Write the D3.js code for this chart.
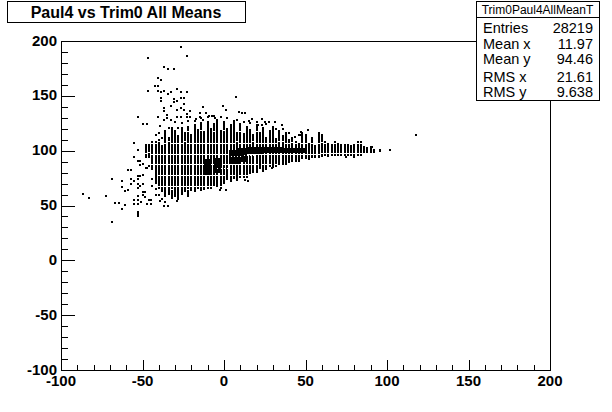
<!DOCTYPE html>
<html><head><meta charset="utf-8">
<script src="https://cdn.jsdelivr.net/npm/d3@7"></script>
<style>html,body{margin:0;padding:0;background:#fff}svg{display:block}text{font-family:"Liberation Sans",Arial,sans-serif;fill:#000}</style>
</head><body><svg id="c" width="612" height="412"></svg>
<script>
const titleText = "Paul4 vs Trim0 All Means";
const statName = "Trim0Paul4AllMeanT";
const statLabels = ["Entries","Mean x","Mean y","RMS x","RMS y"];
const statValues = ["28219","11.97","94.46","21.61","9.638"];
const xTicks = [-100,-50,0,50,100,150,200];
const yTicks = [-100,-50,0,50,100,150,200];

const colX = [-48,-46,-44,-42,-40,-38,-36,-34,-32,-30,-28,-26,-24,-22,-20,-18,-16,-14,-12,-10,-8,-6,-4,-2,0,2,4,6,8,10,12,14,16,18,20,22,24,26,28,30,32,34,36,38,40,42,44,46,48,50,52,54,56,58,60,62,64,66,68,70,72,74,76,78,80,82,84,86,88,90,92,96];
const colLow = [93,93,82,70,66,62,58,60,56,58,55,60,62,58,63,62,65,63,64,66,65,68,67,66,70,73,71,74,72,76,76,75,79,80,80,83,81,82,85,84,85,87,87,87,89,90,90,90,92,92,92,93,94,94,95,96,95,96,96,96,96,96,96,96,96,96,96,98,98,98,98,99];
const colHigh = [105,105,108,108,110,104,118,112,121,118,113,121,116,122,114,123,119,125,117,126,120,124,128,118,126,120,123,127,116,124,115,122,119,114,123,116,121,112,118,122,111,118,113,116,110,112,108,106,116,114,106,112,104,116,114,108,106,105,108,106,105,105,105,104,105,108,108,103,102,103,101,101];
const gapRows = [115,106,96,87,77,67];
const gapUpper = [101,100,103,102,108,99,111,108,112,110,109,111,108,117,110,112,113,118,111,119,109,117,120,112,118,113,110,119,108,117,110,113,109,108,117,111,112,106,113,110,104,108,108,104,102,107,99,102,111,103,100,104,99,110,107,103,100,100,102,100,100,99,100,99,99,100,102,100,100,100,100,100];
const gapLower = [97,98,90,78,74,81,70,74,64,72,63,71,70,64,74,72,70,73,71,75,72,74,72,70,74,78,76,80,78,82,80,84,83,86,84,88,86,85,90,88,90,91,92,91,93,94,92,93,94,94,93,95,95,95,97,97,97,97,97,97,97,97,97,97,97,97,97,99,99,99,99,100];

const bandX0 = [-12,-6,3,8,14,24,36];
const bandX1 = [-8,-1,9,14,24,36,51];
const bandY0 = [78,80,88,90,97,98,98];
const bandY1 = [92,93,101,102,103,103,102];
const dotX = [-4,-2,0,2,4,6,8,10,12,14,16,18,20,22,24,26,28,30,32,34,36];
const dotY = [84,84,84,84,95,95,95,95,96,96,96,96,97,97,97,97,97,97,97,97,97];

const ptX = [-26.6,-22.9,-46.8,-37,-34.5,-30.9,-40.7,-38.8,-42.5,-40.7,-46.8,-40.7,-38.8,-37,-34.5,-32.7,-29,-26.6,-22.9,-26.6,-24.7,-38.8,-38.8,-30.9,-30.9,-29,-24.7,-32.7,-37,-37,-29,-26.6,-24.7,-21,7.2,-13,-0.8,1,9,11,13,-53,-40.7,-37,-35,-35,-32.7,-29,-26.6,-22.9,-22.9,-21,-17.4,-15,-15,-13,-11,-9,-7.4,-5.5,-50,-47,-39,-55,-53,-55,-53,-51.5,-51.5,-47,-59,-57,-50,-53,-51.5,-68.7,-57,-55.5,-57,-62.6,-62.6,-59,-60.7,-53,-53,-53,-51.5,-50,-50,-50,-48.6,-48.6,-86.5,-82.8,-72.4,-53,-55,-55,-53,-53,-51,-46,-45,-39,-67,-64.7,-60.7,-62.6,-53,-53,-53,-68.7,-47,-45,-37,-34.5,-29,-0.6,15.3,17,23.3,21,23.3,25.3,27.6,31.3,35.4,51.3,43.5,47,47,117.6,101.6,75,79.6,91,87.5,29.3,14.9,13,1,-2.5,-42,-42,-40,-38,-36,-44,-44,-46,-48,-50,-42,-40,-38,-34,-30,-28,-26,-22,-18,-14,-10,-6,-2,2,8,12,16,20,26,32,36,40,46];
const ptY = [194.8,186.6,184.5,176.3,174.5,174.5,166.3,164.4,159,159,154.4,154.4,153.5,154.4,151.7,153.5,156.2,153.5,153.5,148,148,148,145.3,147,144.4,145.3,142.6,140.7,138.9,136,137,138.9,137,136,149,139.8,140.7,137,135,134,134,130.7,130.7,128,132.5,130,128,131,131,133,130.7,131,129,134,131,128,134,132,132,130,124,124,122.5,107,100.6,94.5,90.6,90.6,87,84,82,82,78,77,77,74,74,72.7,70,72.7,67,64.5,63,74,70,66,68,70,62,60,62,58,60.8,57,59,59,55,51.5,55,51.5,53,54.6,54.6,54,52.7,52.7,50.8,47,44,42,40,34.5,51,51,50,50,54,140.7,127,129,129,123.4,123.4,126,126,126,123.4,119,112.8,117,114,114.6,100.6,94.5,94.5,103,102,84.5,72.7,73,64,64,65,60,60,56,53,74,68,86,84,88,114,116,112,121,126,121,125,127,127,130,131,132,131,130,128,126,125,126,124,120,120,116,114];

const svg = d3.select("#c");
const pl = 61, pr = 550, pt = 41, pb = 370;
const x = d3.scaleLinear().domain([-100,200]).range([pl,pr]);
const y = d3.scaleLinear().domain([-100,200]).range([pb,pt]);
const sx = v => Math.round(x(v));
const sy = v => Math.round(y(v));

const marks = svg.append("g").attr("shape-rendering","crispEdges");
const segs = [];
colX.forEach((cx,i)=>{
  let hi = colHigh[i];
  const lo = colLow[i];
  const gaps = gapRows.concat([gapUpper[i],gapLower[i]]).sort((a,b)=>b-a);
  gaps.forEach(g=>{
    if(g<hi && g>lo){ segs.push({cx,lo:g+0.6,hi}); hi=g-0.6; }
  });
  if(hi>=lo) segs.push({cx,lo,hi});
});
marks.selectAll("rect.seg").data(segs).join("rect").attr("class","seg")
  .attr("x",d=>sx(d.cx)-1).attr("width",2)
  .attr("y",d=>sy(d.hi)-1).attr("height",d=>Math.max(2,sy(d.lo)-sy(d.hi)+1));
marks.selectAll("rect.band").data(bandX0).join("rect").attr("class","band")
  .attr("x",(d,i)=>sx(d)).attr("width",(d,i)=>sx(bandX1[i])-sx(d))
  .attr("y",(d,i)=>sy(bandY1[i])).attr("height",(d,i)=>sy(bandY0[i])-sy(bandY1[i]));
marks.selectAll("rect.dot").data(dotX).join("rect").attr("class","dot").attr("fill","#fff")
  .attr("x",d=>sx(d)).attr("y",(d,i)=>sy(dotY[i])).attr("width",1).attr("height",1);
marks.selectAll("rect.pt").data(ptX).join("rect").attr("class","pt")
  .attr("x",d=>sx(d)-1).attr("y",(d,i)=>sy(ptY[i])-1).attr("width",2).attr("height",2);

const ax = svg.append("g").attr("shape-rendering","crispEdges").attr("stroke","#000").attr("fill","none");
ax.append("rect").attr("x",pl).attr("y",pt).attr("width",pr-pl).attr("height",pb-pt).attr("stroke-width",1);
d3.range(-100,201,10).forEach(v=>{
  const major = v%50===0;
  ax.append("line").attr("x1",sx(v)+0.5).attr("x2",sx(v)+0.5).attr("y1",pb).attr("y2",pb-(major?10:5));
  ax.append("line").attr("y1",sy(v)+0.5).attr("y2",sy(v)+0.5).attr("x1",pl).attr("x2",pl+(major?14:7));
});
const tf = "bold 15px 'Liberation Sans',Arial,sans-serif";
svg.selectAll("text.xt").data(xTicks).join("text").attr("class","xt")
  .attr("x",d=>x(d)).attr("y",386).attr("text-anchor","middle").style("font",tf).text(d=>d);
svg.selectAll("text.yt").data(yTicks).join("text").attr("class","yt")
  .attr("x",57).attr("y",d=>y(d)+4.5).attr("text-anchor","end").style("font",tf).text(d=>d);

svg.append("rect").attr("x",7).attr("y",1).attr("width",238).attr("height",21).attr("fill","#fff").attr("stroke","#000").attr("shape-rendering","crispEdges");
svg.append("text").attr("x",126).attr("y",18).attr("text-anchor","middle").style("font","bold 16px 'Liberation Sans',Arial,sans-serif").text(titleText);

const sb = svg.append("g");
sb.append("rect").attr("x",476).attr("y",1).attr("width",123).attr("height",99).attr("fill","#fff").attr("stroke","#000").attr("shape-rendering","crispEdges");
sb.append("line").attr("x1",476).attr("x2",599).attr("y1",17.5).attr("y2",17.5).attr("stroke","#000").attr("shape-rendering","crispEdges");
sb.append("text").attr("x",537.5).attr("y",14).attr("text-anchor","middle").style("font","12px 'Liberation Sans',Arial,sans-serif").text(statName);
const rowY = [33,49,64,82,97];
sb.selectAll("text.l").data(statLabels).join("text").attr("class","l").attr("x",483).attr("y",(d,i)=>rowY[i]).style("font","14.5px 'Liberation Sans',Arial,sans-serif").text(d=>d);
sb.selectAll("text.v").data(statValues).join("text").attr("class","v").attr("x",593).attr("y",(d,i)=>rowY[i]).attr("text-anchor","end").style("font","14.5px 'Liberation Sans',Arial,sans-serif").text(d=>d);
</script></body></html>
